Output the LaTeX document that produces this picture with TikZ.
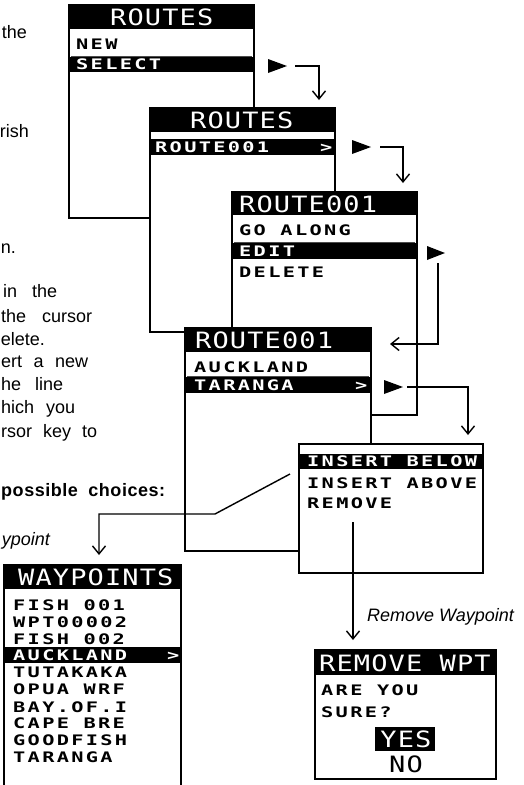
\documentclass[tikz,border=0pt]{standalone}
\usepackage{fontspec}
\setmainfont{Liberation Sans}
\newfontfamily\lcdhead{DejaVu Sans Mono}[FakeStretch=1.2,LetterSpace=5]
\newfontfamily\lcditem{DejaVu Sans Mono}[FakeStretch=1.4,LetterSpace=16]
\usetikzlibrary{arrows.meta}
\begin{document}
\begin{tikzpicture}[x=1pt,y=-1pt,
  scr/.style={draw=black,line width=2.7pt,fill=white},
  ht/.style={anchor=base west,inner sep=0pt,text=white,font=\lcdhead\fontsize{22.5}{22.5}\selectfont},
  it/.style={anchor=base west,inner sep=0pt,font=\lcditem\bfseries\fontsize{14.5}{14.5}\selectfont},
  itw/.style={it,text=white},
  body/.style={anchor=base west,inner sep=0pt,font=\fontsize{18}{20}\selectfont},
  bodye/.style={body,anchor=base east},
  lab/.style={body,font=\itshape\fontsize{18}{20}\selectfont},
  conn/.style={line width=1.4pt},
  arr/.style={conn,-{Straight Barb[length=8pt,width=13pt,line width=1.4pt]}},
  tri/.style={fill=black},
  rowline/.style={line width=1pt,draw=black!70}
]
\useasboundingbox (0,0) rectangle (523,785);

% ---- left text fragments ----
\node[bodye] (l1) at (27,38) {the};
\node[bodye] (l2) at (29,137) {rish};
\node[bodye] (l3) at (16,253) {n.};
\node[body] (l4) at (3,297) {\makebox[54pt][s]{in the}};
\node[body] (l5) at (1,322) {\makebox[91pt][s]{the cursor}};
\node[bodye] (l6) at (45,345) {elete.};
\node[body] (l7) at (1,367) {\makebox[87pt][s]{ert a new}};
\node[body] (l8) at (1,390) {\makebox[62pt][s]{he line}};
\node[body] (l9) at (1,413) {\makebox[74pt][s]{hich you}};
\node[body] (l10) at (1,437) {\makebox[96pt][s]{rsor key to}};
\node[body,font=\bfseries\fontsize{18}{20}\selectfont] (l11) at (1,496) {\makebox[164pt][s]{\addfontfeature{LetterSpace=3}possible choices:}};
\node[lab,anchor=base east] (l12) at (50,545) {ypoint};

% ---- screen 1 ----
\draw[scr] (69,5) rectangle (254,218);
\fill (69,5) rectangle (254,29);
\draw[rowline] (71,56) -- (252,56);
\fill (69,57) rectangle (254,72);
\node[ht] (s1h) at (110,25) {ROUTES};
\node[it] (s1a) at (76,49) {NEW};
\node[itw] (s1b) at (76,69.5) {SELECT};

% ---- screen 2 ----
\draw[scr] (150,108) rectangle (335,332);
\fill (150,108) rectangle (335,132);
\fill (150,139) rectangle (335,155);
\node[ht] (s2h) at (190,128) {ROUTES};
\node[itw] (s2a) at (155,152) {ROUTE001};
\node[itw] (s2g) at (320,152) {>};

% ---- screen 3 ----
\draw[scr] (232,192) rectangle (417,415);
\fill (232,192) rectangle (417,215);
\draw[rowline] (234,242) -- (415,242);
\fill (232,243) rectangle (417,259);
\node[ht] (s3h) at (239,212) {ROUTE001};
\node[it] (s3a) at (239,235) {GO ALONG};
\node[itw] (s3b) at (239,256) {EDIT};
\node[it] (s3c) at (239,277) {DELETE};

% ---- screen 4 ----
\draw[scr] (185,328) rectangle (371,551);
\fill (185,328) rectangle (371,352);
\draw[rowline] (187,376) -- (369,376);
\fill (185,377) rectangle (371,393);
\node[ht] (s4h) at (195,348) {ROUTE001};
\node[it] (s4a) at (194,372) {AUCKLAND};
\node[itw] (s4b) at (194,390) {TARANGA};
\node[itw] (s4g) at (355,390) {>};

% ---- screen 5 (popup) ----
\draw[scr] (299,444) rectangle (483,573);
\fill (299,454) rectangle (483,469);
\node[itw] (s5a) at (307,466.5) {INSERT BELOW};
\node[it] (s5b) at (307,488) {INSERT ABOVE};
\node[it] (s5c) at (307,508) {REMOVE};

% ---- screen 6 (waypoints) ----
\fill[white] (4,565) rectangle (181,800);
\draw[line width=2.7pt] (4,800) -- (4,565) -- (181,565) -- (181,800);
\fill (4,565) rectangle (181,589);
\fill (4,647) rectangle (181,663);
\node[ht] (s6h) at (18,585) {WAYPOINTS};
\node[it] (w1) at (13,610) {FISH 001};
\node[it] (w2) at (13,627) {WPT00002};
\node[it] (w3) at (13,644) {FISH 002};
\node[itw] (w4) at (13,660) {AUCKLAND};
\node[itw] (w4g) at (167,660) {>};
\node[it] (w5) at (13,677) {TUTAKAKA};
\node[it] (w6) at (13,694) {OPUA WRF};
\node[it] (w7) at (13,712) {BAY.OF.I};
\node[it] (w8) at (13,728) {CAPE BRE};
\node[it] (w9) at (13,745) {GOODFISH};
\node[it] (w10) at (13,762) {TARANGA};

% ---- screen 7 (remove) ----
\draw[scr] (315,650) rectangle (496,779);
\fill (315,650) rectangle (496,675);
\node[ht] (s7h) at (319,671) {REMOVE WPT};
\node[it] (s7a) at (321,695) {ARE YOU};
\node[it] (s7b) at (321,717) {SURE?};
\fill (375,727) rectangle (435,751);
\node[ht,anchor=base] (s7y) at (406,747) {YES};
\node[ht,anchor=base,text=black] (s7n) at (406,772) {NO};

% ---- triangles and connectors ----
\fill[tri] (268,59) -- (287,66) -- (268,73) -- cycle;
\coordinate (a1) at (295,66); \coordinate (b1) at (319,100);
\draw[arr] (a1) -| (b1);

\fill[tri] (352,140) -- (371,147) -- (352,154) -- cycle;
\coordinate (a2) at (380,147); \coordinate (b2) at (403,183);
\draw[arr] (a2) -| (b2);

\fill[tri] (427,246) -- (445,253) -- (427,260) -- cycle;
\coordinate (a3) at (438,263); \coordinate (b3) at (390,344);
\draw[arr] (a3) |- (b3);

\fill[tri] (384,380) -- (403,387) -- (384,394) -- cycle;
\coordinate (a4) at (407,387); \coordinate (b4) at (468,435);
\draw[arr] (a4) -| (b4);

\coordinate (a5) at (290,474); \coordinate (k5) at (215,514); \coordinate (b5) at (99,555);
\draw[arr] (a5) -- (k5) -| (b5);

\coordinate (a6) at (353,522); \coordinate (b6) at (353,640);
\draw[arr] (a6) -- (b6);
\node[lab] (rw) at (367,621) {Remove Waypoint};
\end{tikzpicture}
\end{document}
